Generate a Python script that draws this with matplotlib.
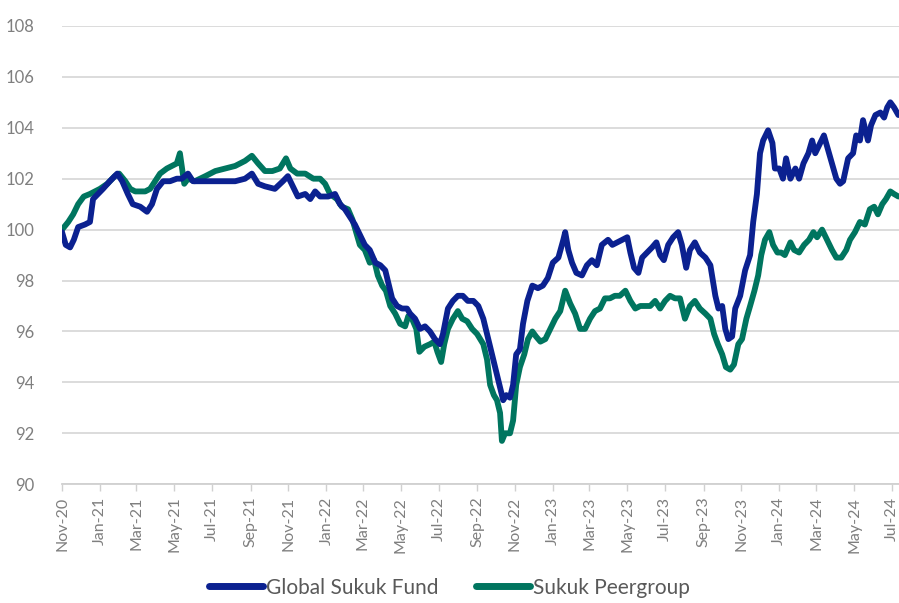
import datetime as dt

import matplotlib
matplotlib.use("Agg")
import matplotlib.pyplot as plt
import matplotlib.dates as mdates

# ---- data: days since launch (2020-11-01) and indexed value ----
start = dt.date(2020, 11, 1)

fund_days = [0, 6, 13, 19, 26, 37, 45, 50, 58, 66, 77, 89, 97, 106, 114, 126, 137, 145, 153, 163,
             174, 185, 193, 203, 211, 222, 239, 255, 279, 295, 306, 316, 327, 343, 356, 364, 372, 380,
             392, 400, 408, 416, 429, 440, 448, 456, 464, 472, 480, 488, 496, 505, 513, 521, 526, 532,
             540, 548, 556, 561, 569, 577, 585, 593, 601, 609, 614, 622, 630, 638, 646, 654, 663, 671,
             679, 687, 693, 700, 706, 711, 716, 722, 727, 732, 738, 743, 750, 758, 767, 775, 783, 791,
             800, 808, 811, 816, 822, 829, 838, 846, 854, 862, 870, 880, 887, 895, 903, 911, 916, 922,
             929, 935, 943, 951, 958, 964, 970, 977, 985, 993, 999, 1006, 1012, 1020, 1028, 1037, 1045,
             1053, 1058, 1064, 1069, 1074, 1080, 1085, 1093, 1101, 1109, 1114, 1120, 1125, 1130, 1138,
             1145, 1149, 1156, 1162, 1167, 1174, 1182, 1188, 1195, 1203, 1209, 1214, 1222, 1228, 1235,
             1241, 1248, 1254, 1259, 1267, 1275, 1280, 1286, 1291, 1299, 1304, 1311, 1319, 1325, 1330,
             1335, 1341, 1348]
fund_values = [99.9, 99.4, 99.3, 99.6, 100.1, 100.2, 100.3, 101.2, 101.4, 101.6, 101.9, 102.2, 101.9,
               101.4, 101.0, 100.9, 100.7, 101.0, 101.6, 101.9, 101.9, 102.0, 102.0, 102.2, 101.9,
               101.9, 101.9, 101.9, 101.9, 102.0, 102.2, 101.8, 101.7, 101.6, 101.9, 102.1, 101.7,
               101.3, 101.4, 101.2, 101.5, 101.3, 101.3, 101.4, 101.0, 100.8, 100.5, 100.2, 99.8, 99.4,
               99.2, 98.7, 98.6, 98.4, 97.9, 97.3, 97.0, 96.9, 96.9, 96.7, 96.5, 96.1, 96.2, 96.0, 95.7,
               95.5, 95.9, 96.9, 97.2, 97.4, 97.4, 97.2, 97.2, 97.0, 96.5, 95.7, 95.1, 94.4, 93.8, 93.3,
               93.5, 93.4, 93.9, 95.1, 95.3, 96.3, 97.2, 97.8, 97.7, 97.8, 98.1, 98.7, 98.9, 99.6, 99.9,
               99.2, 98.7, 98.3, 98.2, 98.6, 98.8, 98.6, 99.4, 99.6, 99.4, 99.5, 99.6, 99.7, 99.1, 98.5,
               98.3, 98.9, 99.1, 99.3, 99.5, 99.0, 98.8, 99.4, 99.7, 99.9, 99.4, 98.5, 99.2, 99.5, 99.1,
               98.9, 98.6, 97.4, 96.9, 97.0, 96.1, 95.7, 95.8, 96.9, 97.4, 98.4, 99.0, 100.3, 101.4,
               103.0, 103.5, 103.9, 103.4, 102.4, 102.4, 102.0, 102.8, 102.0, 102.4, 102.0, 102.6,
               103.0, 103.5, 103.0, 103.4, 103.7, 103.1, 102.6, 102.0, 101.8, 101.9, 102.8, 103.0,
               103.7, 103.5, 104.3, 103.5, 104.1, 104.5, 104.6, 104.4, 104.8, 105.0, 104.8, 104.5]

peer_days = [0, 10, 18, 26, 35, 45, 53, 61, 73, 85, 92, 102, 110, 118, 134, 142, 150, 158, 169, 177,
             185, 190, 197, 203, 214, 231, 247, 263, 279, 295, 306, 316, 327, 339, 351, 361, 368, 379,
             392, 405, 416, 424, 432, 443, 451, 461, 468, 474, 480, 488, 496, 503, 509, 516, 522, 529,
             537, 545, 553, 558, 564, 571, 576, 584, 593, 600, 605, 611, 616, 622, 630, 638, 645, 653,
             661, 669, 679, 685, 690, 696, 701, 706, 709, 714, 722, 727, 732, 738, 745, 751, 758, 764,
             771, 779, 787, 795, 803, 811, 819, 827, 835, 843, 851, 859, 867, 875, 883, 891, 899, 908,
             916, 924, 932, 940, 948, 956, 964, 972, 980, 988, 996, 1004, 1012, 1020, 1028, 1037, 1045,
             1051, 1057, 1064, 1070, 1077, 1083, 1090, 1096, 1103, 1109, 1116, 1122, 1127, 1133, 1140,
             1146, 1153, 1159, 1165, 1174, 1180, 1188, 1196, 1204, 1211, 1217, 1225, 1233, 1241, 1248,
             1256, 1264, 1270, 1278, 1286, 1294, 1302, 1309, 1315, 1322, 1328, 1335, 1341, 1348]
peer_values = [100.0, 100.3, 100.6, 101.0, 101.3, 101.4, 101.5, 101.6, 101.8, 102.1, 102.2, 101.9,
               101.6, 101.5, 101.5, 101.6, 101.9, 102.2, 102.4, 102.5, 102.6, 103.0, 101.8, 102.0,
               101.9, 102.1, 102.3, 102.4, 102.5, 102.7, 102.9, 102.6, 102.3, 102.3, 102.4, 102.8,
               102.4, 102.2, 102.2, 102.0, 102.0, 101.8, 101.4, 101.2, 100.9, 100.8, 100.4, 99.9, 99.4,
               99.2, 98.7, 98.8, 98.2, 97.8, 97.6, 97.0, 96.7, 96.3, 96.2, 96.6, 96.5, 96.1, 95.2, 95.4,
               95.5, 95.6, 95.2, 94.8, 95.5, 96.1, 96.5, 96.8, 96.5, 96.4, 96.1, 95.9, 95.5, 94.9, 93.9,
               93.5, 93.3, 92.8, 91.7, 92.0, 92.0, 92.5, 93.9, 94.6, 95.1, 95.7, 96.0, 95.8, 95.6, 95.7,
               96.1, 96.5, 96.8, 97.6, 97.1, 96.7, 96.1, 96.1, 96.5, 96.8, 96.9, 97.3, 97.3, 97.4, 97.4,
               97.6, 97.2, 96.9, 97.0, 97.0, 97.0, 97.2, 96.9, 97.2, 97.4, 97.3, 97.3, 96.5, 97.0, 97.2,
               96.9, 96.7, 96.5, 95.9, 95.5, 95.1, 94.6, 94.5, 94.7, 95.5, 95.7, 96.5, 97.0, 97.6, 98.2,
               99.0, 99.6, 99.9, 99.4, 99.1, 99.1, 99.0, 99.5, 99.2, 99.1, 99.4, 99.6, 99.9, 99.7,
               100.0, 99.6, 99.2, 98.9, 98.9, 99.2, 99.6, 99.9, 100.3, 100.2, 100.8, 100.9, 100.6,
               101.0, 101.2, 101.5, 101.4, 101.3]

fund_dates = [start + dt.timedelta(days=d) for d in fund_days]
peer_dates = [start + dt.timedelta(days=d) for d in peer_days]

fund_color = "#0b2190"
peer_color = "#00755f"
grey = "#7f7f7f"

plt.rcParams["font.family"] = ["Lato", "DejaVu Sans"]

fig = plt.figure(figsize=(8.99, 6.03), dpi=100)
ax = fig.add_axes([0.069, 0.197, 0.931, 0.760])

ax.plot(fund_dates, fund_values, color=fund_color, lw=4.2, solid_joinstyle="round",
        solid_capstyle="round", label="Global Sukuk Fund", zorder=3)
ax.plot(peer_dates, peer_values, color=peer_color, lw=4.2, solid_joinstyle="round",
        solid_capstyle="round", label="Sukuk Peergroup", zorder=2)

ax.set_ylim(90, 108)
ax.set_yticks(range(90, 109, 2))
ax.set_xlim(dt.date(2020, 11, 1), dt.date(2024, 7, 12))
ax.xaxis.set_major_locator(mdates.MonthLocator(bymonth=[1, 3, 5, 7, 9, 11]))
ax.xaxis.set_major_formatter(mdates.DateFormatter("%b-%y"))
plt.setp(ax.get_xticklabels(), rotation=90)

ax.grid(axis="y", color="#d9d9d9", lw=1.3)
ax.set_axisbelow(True)
for s in ["left", "right", "top"]:
    ax.spines[s].set_visible(False)
ax.spines["bottom"].set_color("#d0d0d0")
ax.spines["bottom"].set_linewidth(1.3)
ax.tick_params(axis="y", length=0, pad=20, labelsize=12, labelcolor=grey)
ax.tick_params(axis="x", length=5, width=1, color="#d0d0d0", labelsize=11.5,
               labelcolor=grey, pad=4)

leg = fig.legend(loc="lower center", bbox_to_anchor=(0.5, -0.022), ncol=2, frameon=False,
                 handlelength=2.6, handletextpad=0.15, columnspacing=1.8,
                 prop={"family": "Lato", "size": 15})
for t in leg.get_texts():
    t.set_color("#595959")
for h in leg.get_lines():
    h.set_linewidth(5)

fig.savefig("out.png", dpi=100)
